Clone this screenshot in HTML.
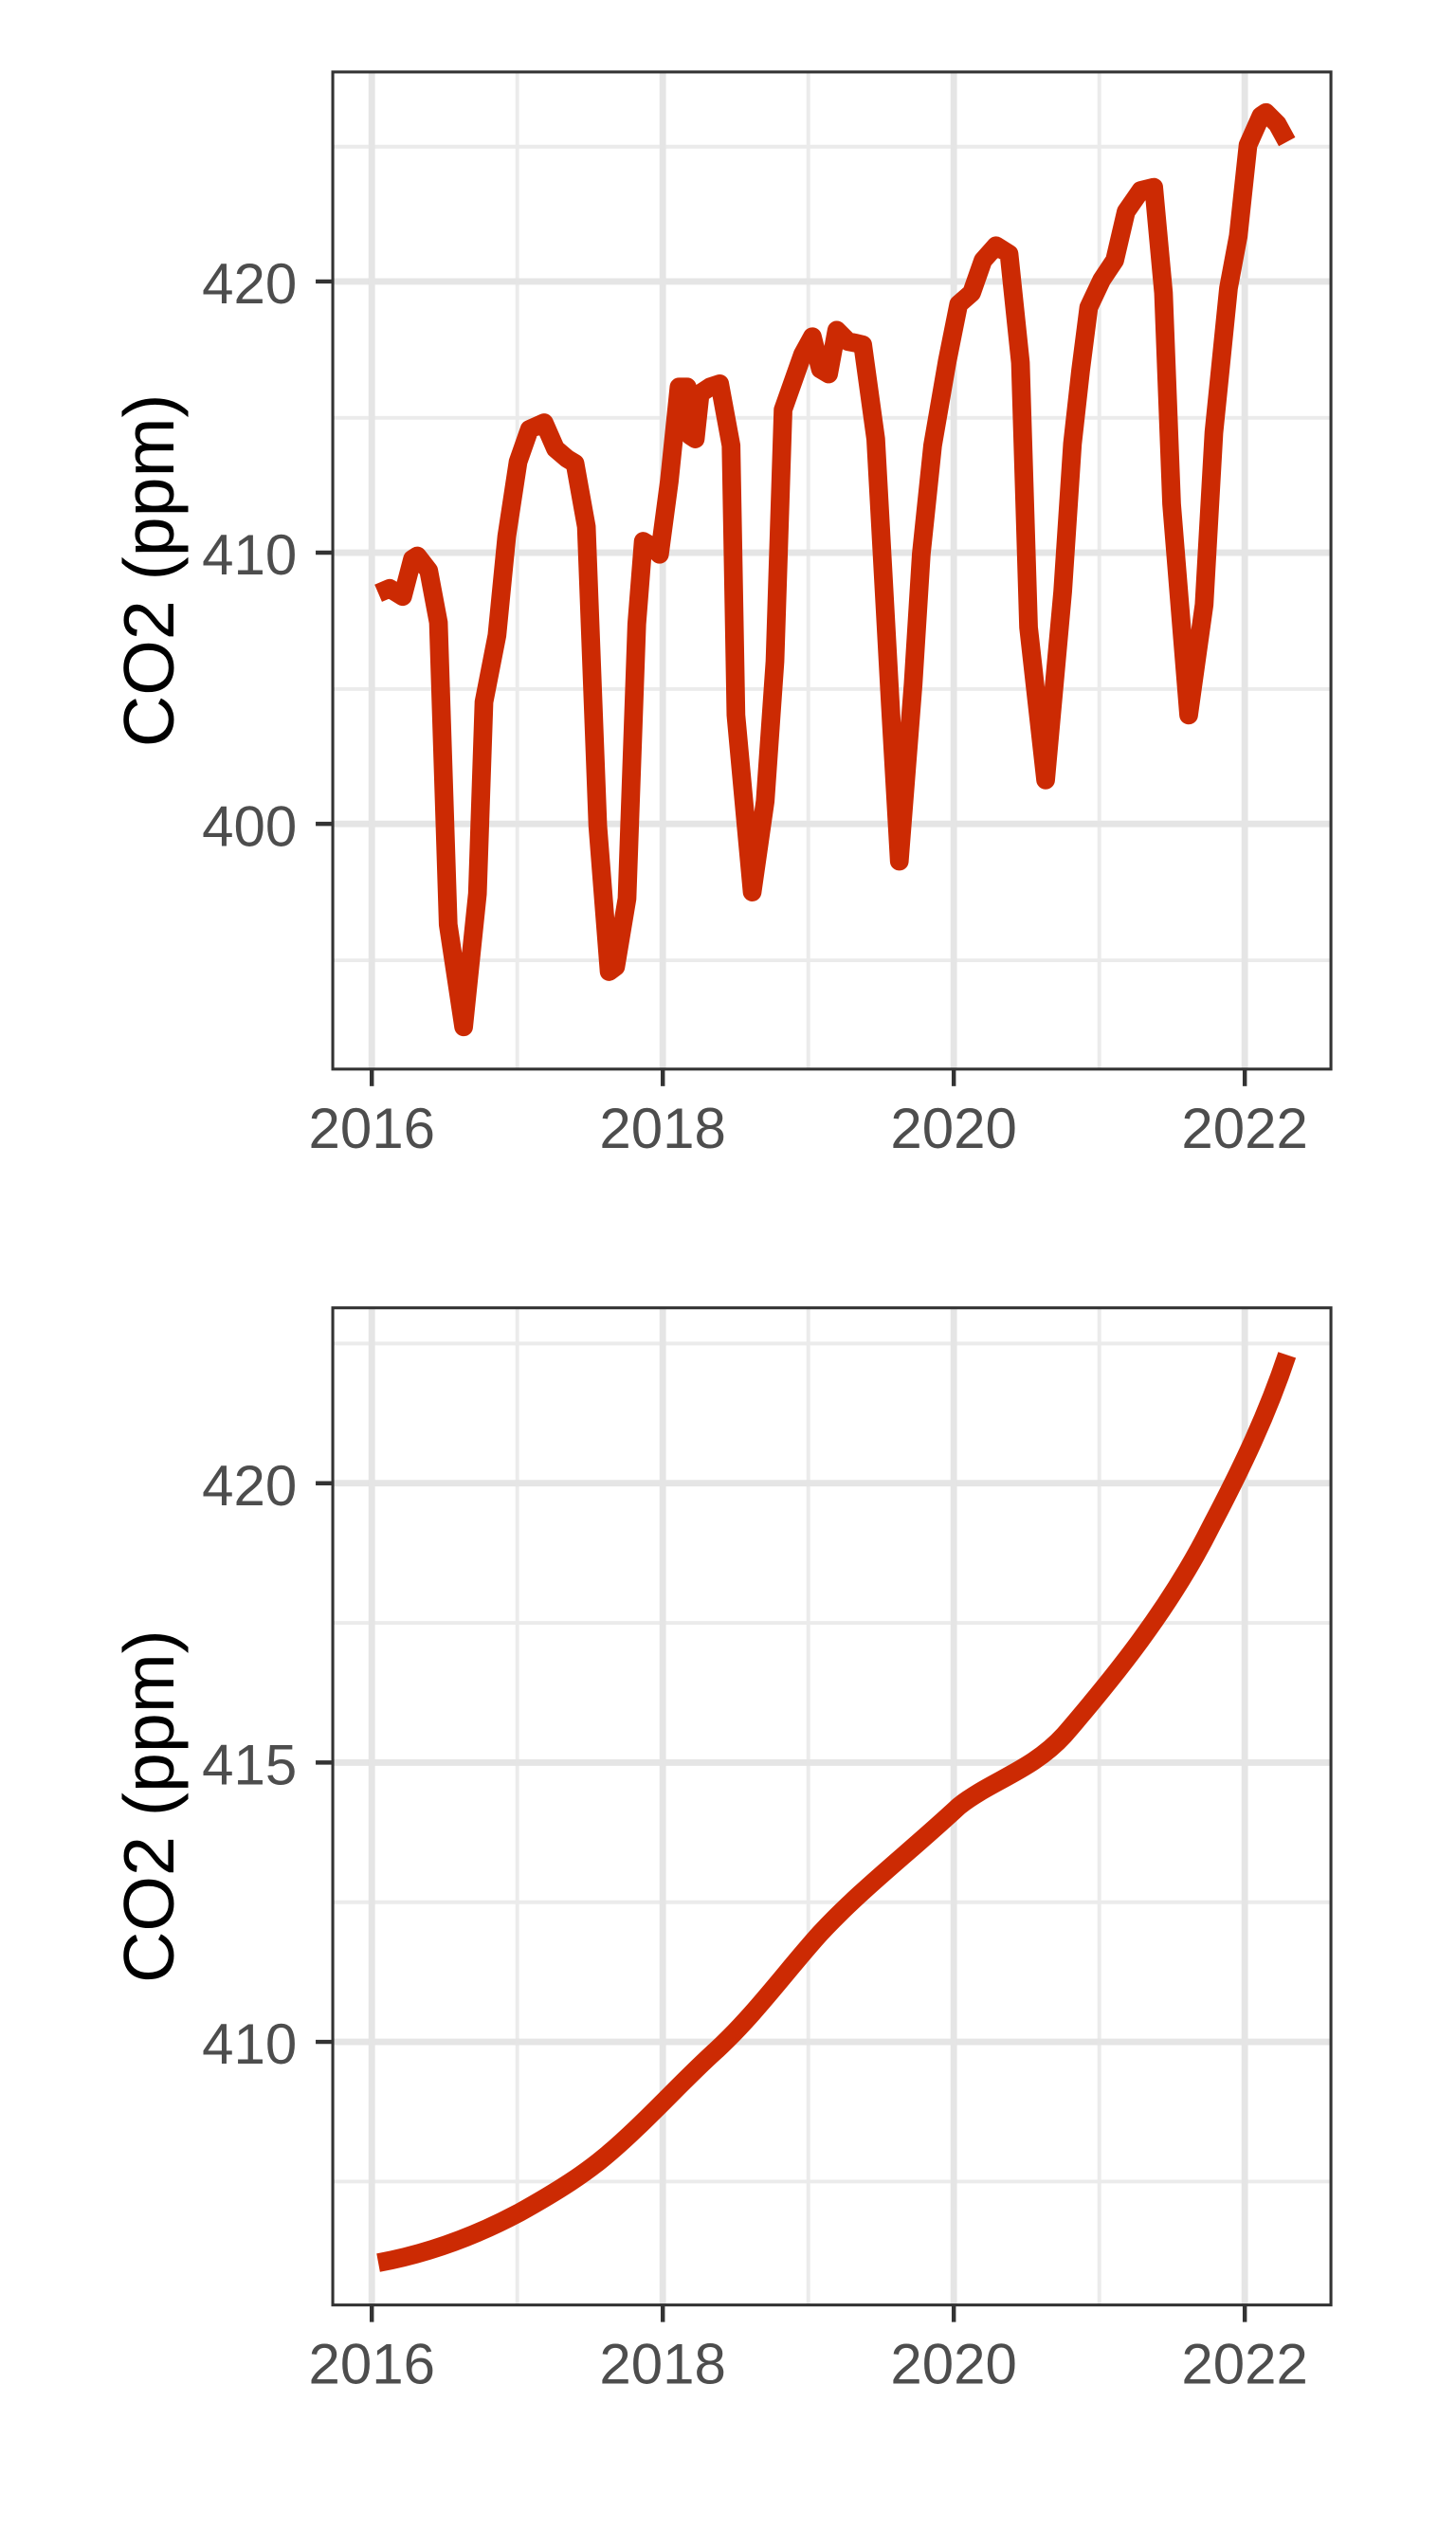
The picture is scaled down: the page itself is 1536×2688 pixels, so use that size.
<!DOCTYPE html>
<html><head><meta charset="utf-8"><style>
html,body{margin:0;padding:0;background:#fff;}
svg{display:block;}
text{font-family:"Liberation Sans",Arial,sans-serif;}
</style></head><body>
<svg width="1536" height="2688" viewBox="0 0 877.714 1536" xmlns="http://www.w3.org/2000/svg">
<rect width="877.714" height="1536" fill="#fff"/>
<g transform="matrix(0.98,0,0,0.979,-0.3,0.3)">
<!-- Panel 1 -->
<g>
<g stroke="#ebebeb" stroke-width="2.3">
<line x1="205" x2="819" y1="90" y2="90"/><line x1="205" x2="819" y1="257" y2="257"/>
<line x1="205" x2="819" y1="424" y2="424"/><line x1="205" x2="819" y1="591" y2="591"/>
<line y1="44" y2="658" x1="318.5" x2="318.5"/><line y1="44" y2="658" x1="497.5" x2="497.5"/><line y1="44" y2="658" x1="676.5" x2="676.5"/>
</g>
<g stroke="#e5e5e5" stroke-width="4">
<line x1="205" x2="819" y1="173" y2="173"/><line x1="205" x2="819" y1="340" y2="340"/><line x1="205" x2="819" y1="507" y2="507"/>
<line y1="44" y2="658" x1="229" x2="229"/><line y1="44" y2="658" x1="408" x2="408"/><line y1="44" y2="658" x1="587" x2="587"/><line y1="44" y2="658" x1="766" x2="766"/>
</g>
<polyline fill="none" stroke="#CC2A03" stroke-width="11.5" stroke-linejoin="round" points="233,365 240,362 248,367 254,344 257,342 264,351 270,383 276,569 285.5,632 294,550 298,432 306,391 312,330 319,284 326,264 335,260 342,276 349,282 354,285 361,324 368,508 375,598 379,595 386,553 392,384 396,333 401,336 406,341 412,296 418,238 423,238 425,268 428,270 431,242 437,238 443,236 450,274 453,440 463,549 471,493 477,407 482,252 494,218 500,207 505,227 510,230 515,203 522,210 527,211 531,212 539,270 548,434 553.5,530 562,421 567,341 574,274 583,222 590,187 598,180 605,160 613,151 621,156 628,223 633,386 643.5,480 654,364 660,273 665,228 670,189 678,172 686,160 693,130 702,117 710,115 716,180 721,310 731.5,440 741,372 747,266 756,177 762,145 768,89 776,71 779,69 786,76 792,87"/>
<rect x="205" y="44" width="614" height="614" fill="none" stroke="#333" stroke-width="1.8"/>
<g stroke="#333" stroke-width="2.6">
<line x1="194.5" x2="205" y1="173" y2="173"/><line x1="194.5" x2="205" y1="340" y2="340"/><line x1="194.5" x2="205" y1="507" y2="507"/>
<line y1="658" y2="668.5" x1="229" x2="229"/><line y1="658" y2="668.5" x1="408" x2="408"/><line y1="658" y2="668.5" x1="587" x2="587"/><line y1="658" y2="668.5" x1="766" x2="766"/>
</g>
<g fill="#4d4d4d" font-size="35" text-anchor="end">
<text x="183" y="186.5">420</text><text x="183" y="353.5">410</text><text x="183" y="520.5">400</text>
</g>
<g fill="#4d4d4d" font-size="35" text-anchor="middle">
<text x="229" y="706.5">2016</text><text x="408" y="706.5">2018</text><text x="587" y="706.5">2020</text><text x="766" y="706.5">2022</text>
</g>
<text transform="translate(107,351) rotate(-90)" font-size="44" text-anchor="middle" fill="#000">CO2 (ppm)</text>
</g>
<!-- Panel 2 -->
<g>
<g stroke="#ebebeb" stroke-width="2.3">
<line x1="205" x2="819" y1="827" y2="827"/><line x1="205" x2="819" y1="999" y2="999"/>
<line x1="205" x2="819" y1="1171" y2="1171"/><line x1="205" x2="819" y1="1343" y2="1343"/>
<line y1="805" y2="1419" x1="318.5" x2="318.5"/><line y1="805" y2="1419" x1="497.5" x2="497.5"/><line y1="805" y2="1419" x1="676.5" x2="676.5"/>
</g>
<g stroke="#e5e5e5" stroke-width="4">
<line x1="205" x2="819" y1="913" y2="913"/><line x1="205" x2="819" y1="1085" y2="1085"/><line x1="205" x2="819" y1="1257" y2="1257"/>
<line y1="805" y2="1419" x1="229" x2="229"/><line y1="805" y2="1419" x1="408" x2="408"/><line y1="805" y2="1419" x1="587" x2="587"/><line y1="805" y2="1419" x1="766" x2="766"/>
</g>
<path fill="none" stroke="#CC2A03" stroke-width="11.5" d="M233,1393 C260,1388 290,1378 320,1362 C345,1348 360,1338 372,1328 C395,1309 420,1281 440,1263 C465,1240 485,1212 505,1190 C530,1163 560,1140 590,1112 C610,1096 635,1090 655,1068 C685,1033 720,990 745,940 C765,902 780,870 792,834"/>
<rect x="205" y="805" width="614" height="614" fill="none" stroke="#333" stroke-width="1.8"/>
<g stroke="#333" stroke-width="2.6">
<line x1="194.5" x2="205" y1="913" y2="913"/><line x1="194.5" x2="205" y1="1085" y2="1085"/><line x1="194.5" x2="205" y1="1257" y2="1257"/>
<line y1="1419" y2="1429.5" x1="229" x2="229"/><line y1="1419" y2="1429.5" x1="408" x2="408"/><line y1="1419" y2="1429.5" x1="587" x2="587"/><line y1="1419" y2="1429.5" x1="766" x2="766"/>
</g>
<g fill="#4d4d4d" font-size="35" text-anchor="end">
<text x="183" y="926.5">420</text><text x="183" y="1098.5">415</text><text x="183" y="1270.5">410</text>
</g>
<g fill="#4d4d4d" font-size="35" text-anchor="middle">
<text x="229" y="1467.5">2016</text><text x="408" y="1467.5">2018</text><text x="587" y="1467.5">2020</text><text x="766" y="1467.5">2022</text>
</g>
<text transform="translate(107,1112) rotate(-90)" font-size="44" text-anchor="middle" fill="#000">CO2 (ppm)</text>
</g>
</g>
</svg>
</body></html>
